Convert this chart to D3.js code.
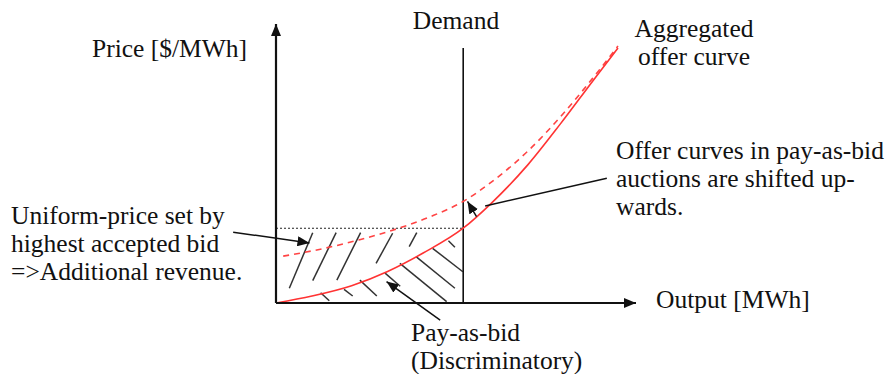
<!DOCTYPE html>
<html>
<head>
<meta charset="utf-8">
<script src="https://cdn.jsdelivr.net/npm/d3@7"></script>
<style>
  body { margin: 0; background: #fff; }
  svg { display: block; }
  text { font-family: "Liberation Serif", "Times New Roman", serif; font-size: 25.5px; fill: #111; }
</style>
</head>
<body>
<div id="chart"></div>
<script>
// Aggregated offer curve (solid) — output vs price
const offerOutput = [0, 10, 21, 31, 41, 52, 60, 70, 79, 88, 95];
const offerPrice = [0, 2.5, 6.2, 11.3, 18.0, 26.8, 36.0, 49.6, 64.2, 79.6, 91.4];

// Offer curve shifted upwards under pay-as-bid (dashed)
const bidOutput = [2, 12, 23, 33.6, 43, 52, 60, 70, 79, 88, 95];
const bidPrice = [16.8, 19.2, 22.6, 26.6, 31.0, 36.4, 43.5, 54.5, 66.7, 80.6, 92.1];

const demandOutput = 52;
const demandTop = 91.4;
const clearingPrice = 26.8;

// hatching: [x1, y1, x2, y2] in output/price units
const revenueHatch = [
  [3.7, 5.3, 10.2, 25.2],
  [10.2, 8.0, 16.7, 25.2],
  [16.9, 8.2, 23.5, 25.2],
  [27.8, 14.2, 32.4, 25.0],
  [37.0, 20.2, 39.1, 25.2]
];
const payAsBidHatch = [
  [12.4, 3.7, 14.8, 0.8],
  [18.9, 4.9, 21.3, 2.5],
  [23.3, 8.2, 28.0, 2.5],
  [30.3, 10.7, 34.5, 6.0],
  [34.4, 14.2, 47.4, 0.5],
  [38.9, 16.6, 49.7, 5.3],
  [43.5, 19.6, 51.9, 11.2],
  [47.9, 22.3, 49.7, 20.0]
];

// annotation leader lines: [x1, y1, x2, y2, arrow?]
const leaders = [
  [-11.9, 25.4, 9.3, 21.5, true],
  [91.9, 44.7, 58.1, 34.8, false],
  [55.7, 31.0, 53.2, 36.4, true],
  [45.6, -6.1, 30.7, 7.7, true]
];

const width = 889, height = 374;

const x = d3.scaleLinear().domain([0, 100]).range([276, 636]);
const y = d3.scaleLinear().domain([0, 100]).range([303, 24]);

const svg = d3.select("#chart").append("svg")
  .attr("width", width)
  .attr("height", height);

svg.append("defs").append("marker")
  .attr("id", "head")
  .attr("viewBox", "0 0 12 10")
  .attr("refX", 12).attr("refY", 5)
  .attr("markerWidth", 12).attr("markerHeight", 10)
  .attr("markerUnits", "userSpaceOnUse")
  .attr("orient", "auto")
  .append("path")
  .attr("d", "M0,0L12,5L0,10Z")
  .attr("fill", "#111");

// hatching
const hatchG = svg.append("g").attr("class", "hatch");
hatchG.selectAll("line")
  .data([...revenueHatch, ...payAsBidHatch])
  .join("line")
  .attr("x1", (d) => x(d[0])).attr("y1", (d) => y(d[1]))
  .attr("x2", (d) => x(d[2])).attr("y2", (d) => y(d[3]))
  .attr("stroke", "#333").attr("stroke-width", 1.5);

// uniform price level
svg.append("line")
  .attr("x1", x(0)).attr("x2", x(demandOutput))
  .attr("y1", y(clearingPrice)).attr("y2", y(clearingPrice))
  .attr("stroke", "#222").attr("stroke-width", 1.2)
  .attr("stroke-dasharray", "2,2");

// demand
svg.append("line")
  .attr("x1", x(demandOutput)).attr("x2", x(demandOutput))
  .attr("y1", y(0)).attr("y2", y(demandTop))
  .attr("stroke", "#111").attr("stroke-width", 1.6);

// curves
const line = d3.line()
  .x((d) => x(d[0]))
  .y((d) => y(d[1]))
  .curve(d3.curveMonotoneX);

svg.append("path")
  .datum(bidOutput.map((v, i) => [v, bidPrice[i]]))
  .attr("d", line)
  .attr("fill", "none")
  .attr("stroke", "#f44")
  .attr("stroke-width", 1.6)
  .attr("stroke-dasharray", "6,5");

svg.append("path")
  .datum(offerOutput.map((v, i) => [v, offerPrice[i]]))
  .attr("d", line)
  .attr("fill", "none")
  .attr("stroke", "#f33")
  .attr("stroke-width", 1.6);

// axes
svg.append("line")
  .attr("x1", x(0)).attr("y1", y(0))
  .attr("x2", x(0)).attr("y2", y(100))
  .attr("stroke", "#111").attr("stroke-width", 2.2)
  .attr("marker-end", "url(#head)");
svg.append("line")
  .attr("x1", x(0)).attr("y1", y(0))
  .attr("x2", x(100)).attr("y2", y(0))
  .attr("stroke", "#111").attr("stroke-width", 2.2)
  .attr("marker-end", "url(#head)");

// leader lines
svg.append("g").selectAll("line")
  .data(leaders)
  .join("line")
  .attr("x1", (d) => x(d[0])).attr("y1", (d) => y(d[1]))
  .attr("x2", (d) => x(d[2])).attr("y2", (d) => y(d[3]))
  .attr("stroke", "#111").attr("stroke-width", 1.5)
  .attr("marker-end", (d) => d[4] ? "url(#head)" : null);

// labels
const labels = [
  { text: ["Price [$/MWh]"], x: 92, y: 57, anchor: "start" },
  { text: ["Demand"], x: 456, y: 29, anchor: "middle" },
  { text: ["Aggregated", "offer curve"], x: 694, y: 37, anchor: "middle" },
  { text: ["Offer curves in pay-as-bid", "auctions are shifted up-", "wards."], x: 616, y: 159, anchor: "start" },
  { text: ["Uniform-price set by", "highest accepted bid", "=>Additional revenue."], x: 11, y: 224, anchor: "start" },
  { text: ["Output [MWh]"], x: 656, y: 308, anchor: "start" },
  { text: ["Pay-as-bid", "(Discriminatory)"], x: 411, y: 341, anchor: "start" }
];

labels.forEach((l) => {
  const t = svg.append("text")
    .attr("x", l.x).attr("y", l.y)
    .attr("text-anchor", l.anchor);
  l.text.forEach((s, i) => {
    t.append("tspan")
      .attr("x", l.x)
      .attr("dy", i === 0 ? 0 : 28)
      .text(s);
  });
});
</script>
</body>
</html>
